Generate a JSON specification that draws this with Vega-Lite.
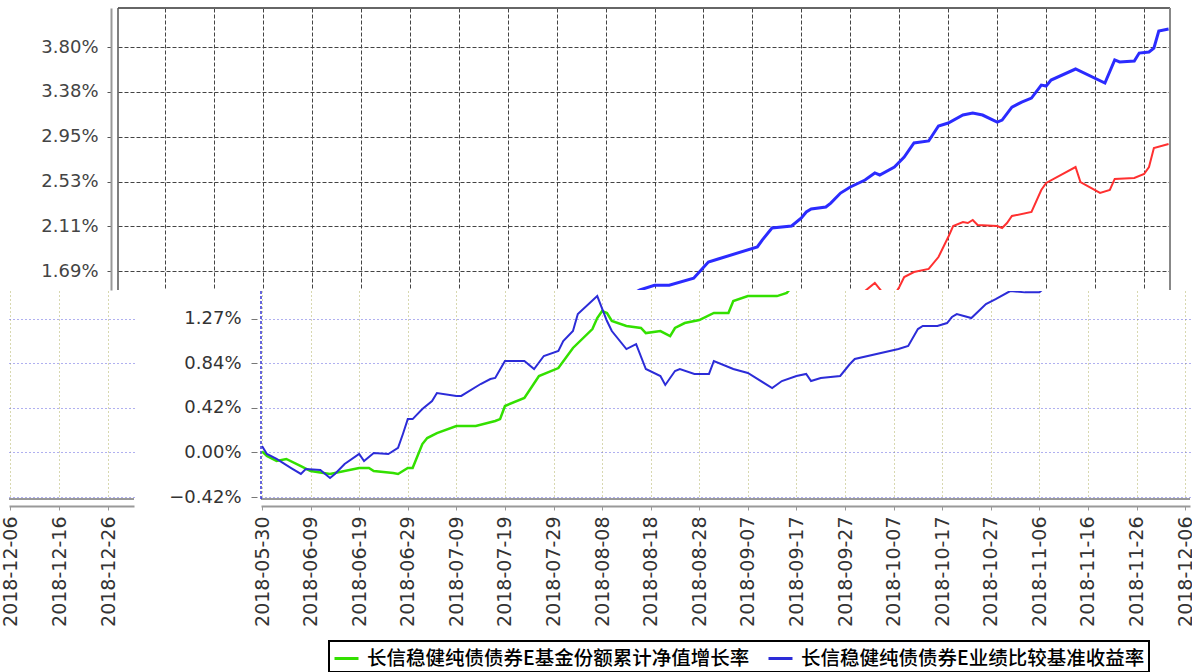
{
  "$schema": "https://vega.github.io/schema/vega-lite/v6.json",
  "background": "white",
  "padding": {"left": 1, "top": 7, "right": 0, "bottom": 0},
  "config": {
    "view": {"stroke": null},
    "axis": {"labelFont": "DejaVu Sans", "labelFontSize": 18, "labelColor": "#333", "title": null}
  },
  "datasets": {
    "topRed": [
      {"date": "2018-09-29", "value": 1.465}, {"date": "2018-10-02", "value": 1.578}, {"date": "2018-10-04", "value": 1.465},
      {"date": "2018-10-06", "value": 1.465}, {"date": "2018-10-07", "value": 1.540}, {"date": "2018-10-08", "value": 1.634},
      {"date": "2018-10-10", "value": 1.681}, {"date": "2018-10-13", "value": 1.710}, {"date": "2018-10-15", "value": 1.822},
      {"date": "2018-10-16", "value": 1.917}, {"date": "2018-10-17", "value": 2.010}, {"date": "2018-10-18", "value": 2.114},
      {"date": "2018-10-20", "value": 2.152}, {"date": "2018-10-21", "value": 2.142}, {"date": "2018-10-22", "value": 2.171},
      {"date": "2018-10-23", "value": 2.124}, {"date": "2018-10-27", "value": 2.114}, {"date": "2018-10-28", "value": 2.095},
      {"date": "2018-10-29", "value": 2.142}, {"date": "2018-10-30", "value": 2.208}, {"date": "2018-11-03", "value": 2.246},
      {"date": "2018-11-05", "value": 2.453}, {"date": "2018-11-06", "value": 2.519}, {"date": "2018-11-12", "value": 2.669},
      {"date": "2018-11-13", "value": 2.528}, {"date": "2018-11-17", "value": 2.425}, {"date": "2018-11-19", "value": 2.453},
      {"date": "2018-11-20", "value": 2.557}, {"date": "2018-11-24", "value": 2.566}, {"date": "2018-11-26", "value": 2.603},
      {"date": "2018-11-27", "value": 2.669}, {"date": "2018-11-28", "value": 2.848}, {"date": "2018-12-01", "value": 2.886}
    ],
    "topBlue": [
      {"date": "2018-08-13", "value": 1.465}, {"date": "2018-08-15", "value": 1.512}, {"date": "2018-08-18", "value": 1.557},
      {"date": "2018-08-21", "value": 1.557}, {"date": "2018-08-26", "value": 1.623}, {"date": "2018-08-29", "value": 1.775},
      {"date": "2018-08-31", "value": 1.804}, {"date": "2018-09-08", "value": 1.917}, {"date": "2018-09-09", "value": 1.982},
      {"date": "2018-09-11", "value": 2.095}, {"date": "2018-09-15", "value": 2.114}, {"date": "2018-09-17", "value": 2.189},
      {"date": "2018-09-18", "value": 2.246}, {"date": "2018-09-19", "value": 2.274}, {"date": "2018-09-22", "value": 2.293},
      {"date": "2018-09-23", "value": 2.330}, {"date": "2018-09-25", "value": 2.424}, {"date": "2018-09-27", "value": 2.481},
      {"date": "2018-09-30", "value": 2.547}, {"date": "2018-10-02", "value": 2.613}, {"date": "2018-10-03", "value": 2.594},
      {"date": "2018-10-06", "value": 2.669}, {"date": "2018-10-08", "value": 2.763}, {"date": "2018-10-10", "value": 2.895},
      {"date": "2018-10-13", "value": 2.914}, {"date": "2018-10-15", "value": 3.055}, {"date": "2018-10-17", "value": 3.083},
      {"date": "2018-10-20", "value": 3.158}, {"date": "2018-10-22", "value": 3.177}, {"date": "2018-10-24", "value": 3.158},
      {"date": "2018-10-27", "value": 3.092}, {"date": "2018-10-28", "value": 3.111}, {"date": "2018-10-30", "value": 3.233},
      {"date": "2018-11-01", "value": 3.280}, {"date": "2018-11-03", "value": 3.318}, {"date": "2018-11-05", "value": 3.440},
      {"date": "2018-11-06", "value": 3.431}, {"date": "2018-11-07", "value": 3.487}, {"date": "2018-11-12", "value": 3.591},
      {"date": "2018-11-18", "value": 3.459}, {"date": "2018-11-20", "value": 3.676}, {"date": "2018-11-21", "value": 3.657},
      {"date": "2018-11-24", "value": 3.666}, {"date": "2018-11-25", "value": 3.741}, {"date": "2018-11-27", "value": 3.751},
      {"date": "2018-11-28", "value": 3.788}, {"date": "2018-11-29", "value": 3.948}, {"date": "2018-12-01", "value": 3.967}
    ],
    "fund": [
      {"date": "2018-05-30", "value": 0.01}, {"date": "2018-05-31", "value": -0.033}, {"date": "2018-06-02", "value": -0.080},
      {"date": "2018-06-04", "value": -0.061}, {"date": "2018-06-07", "value": -0.128}, {"date": "2018-06-09", "value": -0.175},
      {"date": "2018-06-13", "value": -0.203}, {"date": "2018-06-19", "value": -0.147}, {"date": "2018-06-21", "value": -0.147},
      {"date": "2018-06-22", "value": -0.175}, {"date": "2018-06-26", "value": -0.194}, {"date": "2018-06-27", "value": -0.203},
      {"date": "2018-06-29", "value": -0.147}, {"date": "2018-06-30", "value": -0.147}, {"date": "2018-07-02", "value": 0.080},
      {"date": "2018-07-03", "value": 0.137}, {"date": "2018-07-05", "value": 0.184}, {"date": "2018-07-09", "value": 0.251},
      {"date": "2018-07-13", "value": 0.251}, {"date": "2018-07-17", "value": 0.298}, {"date": "2018-07-18", "value": 0.316},
      {"date": "2018-07-19", "value": 0.440}, {"date": "2018-07-23", "value": 0.516}, {"date": "2018-07-26", "value": 0.724},
      {"date": "2018-07-30", "value": 0.799}, {"date": "2018-08-02", "value": 0.989}, {"date": "2018-08-06", "value": 1.168},
      {"date": "2018-08-07", "value": 1.272}, {"date": "2018-08-08", "value": 1.339}, {"date": "2018-08-09", "value": 1.320},
      {"date": "2018-08-10", "value": 1.244}, {"date": "2018-08-13", "value": 1.197}, {"date": "2018-08-16", "value": 1.178},
      {"date": "2018-08-17", "value": 1.130}, {"date": "2018-08-20", "value": 1.149}, {"date": "2018-08-22", "value": 1.102},
      {"date": "2018-08-23", "value": 1.178}, {"date": "2018-08-25", "value": 1.225}, {"date": "2018-08-28", "value": 1.253},
      {"date": "2018-08-31", "value": 1.320}, {"date": "2018-09-03", "value": 1.320}, {"date": "2018-09-04", "value": 1.433},
      {"date": "2018-09-07", "value": 1.480}, {"date": "2018-09-13", "value": 1.480}, {"date": "2018-09-15", "value": 1.509},
      {"date": "2018-09-17", "value": 1.622}
    ],
    "bench": [
      {"date": "2018-05-30", "value": 0.061}, {"date": "2018-05-31", "value": -0.014}, {"date": "2018-06-02", "value": -0.061},
      {"date": "2018-06-05", "value": -0.147}, {"date": "2018-06-07", "value": -0.203}, {"date": "2018-06-08", "value": -0.156},
      {"date": "2018-06-11", "value": -0.166}, {"date": "2018-06-13", "value": -0.241}, {"date": "2018-06-14", "value": -0.203},
      {"date": "2018-06-16", "value": -0.109}, {"date": "2018-06-19", "value": -0.014}, {"date": "2018-06-20", "value": -0.080},
      {"date": "2018-06-22", "value": -0.005}, {"date": "2018-06-25", "value": -0.014}, {"date": "2018-06-27", "value": 0.043},
      {"date": "2018-06-28", "value": 0.175}, {"date": "2018-06-29", "value": 0.316}, {"date": "2018-06-30", "value": 0.316},
      {"date": "2018-07-02", "value": 0.411}, {"date": "2018-07-04", "value": 0.487}, {"date": "2018-07-05", "value": 0.563},
      {"date": "2018-07-09", "value": 0.535}, {"date": "2018-07-10", "value": 0.535}, {"date": "2018-07-14", "value": 0.648},
      {"date": "2018-07-16", "value": 0.695}, {"date": "2018-07-17", "value": 0.705}, {"date": "2018-07-19", "value": 0.866},
      {"date": "2018-07-23", "value": 0.866}, {"date": "2018-07-25", "value": 0.790}, {"date": "2018-07-27", "value": 0.913},
      {"date": "2018-07-30", "value": 0.960}, {"date": "2018-07-31", "value": 1.055}, {"date": "2018-08-02", "value": 1.149},
      {"date": "2018-08-03", "value": 1.310}, {"date": "2018-08-07", "value": 1.480}, {"date": "2018-08-09", "value": 1.244},
      {"date": "2018-08-10", "value": 1.149}, {"date": "2018-08-13", "value": 0.979}, {"date": "2018-08-15", "value": 1.026},
      {"date": "2018-08-17", "value": 0.790}, {"date": "2018-08-20", "value": 0.724}, {"date": "2018-08-21", "value": 0.639},
      {"date": "2018-08-23", "value": 0.771}, {"date": "2018-08-24", "value": 0.790}, {"date": "2018-08-27", "value": 0.743},
      {"date": "2018-08-30", "value": 0.743}, {"date": "2018-08-31", "value": 0.866}, {"date": "2018-09-04", "value": 0.790},
      {"date": "2018-09-07", "value": 0.752}, {"date": "2018-09-12", "value": 0.610}, {"date": "2018-09-14", "value": 0.676},
      {"date": "2018-09-17", "value": 0.724}, {"date": "2018-09-19", "value": 0.743}, {"date": "2018-09-20", "value": 0.676},
      {"date": "2018-09-22", "value": 0.705}, {"date": "2018-09-26", "value": 0.724}, {"date": "2018-09-28", "value": 0.837},
      {"date": "2018-09-29", "value": 0.885}, {"date": "2018-10-08", "value": 0.979}, {"date": "2018-10-10", "value": 1.008},
      {"date": "2018-10-12", "value": 1.168}, {"date": "2018-10-13", "value": 1.197}, {"date": "2018-10-16", "value": 1.197},
      {"date": "2018-10-18", "value": 1.225}, {"date": "2018-10-19", "value": 1.282}, {"date": "2018-10-20", "value": 1.310},
      {"date": "2018-10-23", "value": 1.272}, {"date": "2018-10-26", "value": 1.405}, {"date": "2018-10-28", "value": 1.452},
      {"date": "2018-10-31", "value": 1.528}, {"date": "2018-11-03", "value": 1.515}, {"date": "2018-11-06", "value": 1.515},
      {"date": "2018-11-08", "value": 1.600}
    ]
  },
  "spacing": -2,
  "resolve": {"scale": {"color": "independent"}, "legend": {"color": "independent"}},
  "vconcat": [
    {
      "bounds": "flush",
      "spacing": 0,
      "hconcat": [
        {
          "width": 109, "height": 282,
          "view": {"fill": "white", "stroke": null},
          "data": {"values": [{}]},
          "mark": {"type": "point", "opacity": 0}
        },
        {
          "width": 1052, "height": 282,
          "layer": [
            {
              "data": {"name": "topRed"},
              "mark": {"type": "line", "clip": true, "color": "#ff3030", "strokeWidth": 2},
              "encoding": {
                "x": {"field": "date", "type": "temporal",
                  "scale": {"type": "utc", "nice": false, "domain": [{"year": 2018, "month": 4, "date": 30, "hours": 10, "utc": true}, {"year": 2018, "month": 12, "date": 1, "hours": 7, "utc": true}]},
                  "axis": {"labels": false, "ticks": false, "domain": false, "grid": true, "gridColor": "#444", "gridDash": [4, 2], "gridWidth": 1,
                    "values": [
                      {"year": 2018, "month": 5, "date": 10, "utc": true}, {"year": 2018, "month": 5, "date": 20, "utc": true},
                      {"year": 2018, "month": 5, "date": 30, "utc": true}, {"year": 2018, "month": 6, "date": 9, "utc": true},
                      {"year": 2018, "month": 6, "date": 19, "utc": true}, {"year": 2018, "month": 6, "date": 29, "utc": true},
                      {"year": 2018, "month": 7, "date": 9, "utc": true}, {"year": 2018, "month": 7, "date": 19, "utc": true},
                      {"year": 2018, "month": 7, "date": 29, "utc": true}, {"year": 2018, "month": 8, "date": 8, "utc": true},
                      {"year": 2018, "month": 8, "date": 18, "utc": true}, {"year": 2018, "month": 8, "date": 28, "utc": true},
                      {"year": 2018, "month": 9, "date": 7, "utc": true}, {"year": 2018, "month": 9, "date": 17, "utc": true},
                      {"year": 2018, "month": 9, "date": 27, "utc": true}, {"year": 2018, "month": 10, "date": 7, "utc": true},
                      {"year": 2018, "month": 10, "date": 17, "utc": true}, {"year": 2018, "month": 10, "date": 27, "utc": true},
                      {"year": 2018, "month": 11, "date": 6, "utc": true}, {"year": 2018, "month": 11, "date": 16, "utc": true},
                      {"year": 2018, "month": 11, "date": 26, "utc": true}
                    ]}},
                "y": {"field": "value", "type": "quantitative",
                  "scale": {"domain": [1.512, 4.165], "nice": false, "zero": false},
                  "axis": {"values": [1.688, 2.11, 2.532, 2.954, 3.376, 3.798], "labelExpr": "format(datum.value, '.2f') + '%'",
                    "offset": 7, "domainColor": "#999", "domainWidth": 2, "tickColor": "#555", "tickSize": 4, "labelPadding": 9,
                    "labelColor": "#444", "grid": true, "gridColor": "#444", "gridDash": [4, 2], "gridWidth": 1}}
              }
            },
            {
              "data": {"name": "topBlue"},
              "mark": {"type": "line", "clip": true, "color": "#2b2bff", "strokeWidth": 3},
              "encoding": {
                "x": {"field": "date", "type": "temporal"},
                "y": {"field": "value", "type": "quantitative"}
              }
            },
            {
              "data": {"values": [{}]},
              "mark": {"type": "rule", "color": "#666", "strokeWidth": 2},
              "encoding": {"y": {"datum": 4.165}}
            },
            {
              "data": {"values": [{}]},
              "mark": {"type": "rule", "color": "#555", "strokeWidth": 1.5},
              "encoding": {"x": {"datum": {"year": 2018, "month": 4, "date": 30, "hours": 10, "utc": true}, "type": "temporal"}}
            },
            {
              "data": {"values": [{}]},
              "mark": {"type": "rule", "color": "#888", "strokeWidth": 2},
              "encoding": {"x": {"datum": {"year": 2018, "month": 12, "date": 1, "hours": 7, "utc": true}, "type": "temporal"}}
            }
          ]
        }
      ]
    },
    {
      "bounds": "flush",
      "spacing": 127,
      "resolve": {"scale": {"color": "independent"}, "legend": {"color": "independent"}},
      "hconcat": [
        {
          "width": 125, "height": 208,
          "data": {"values": [{}]},
          "layer": [
            {
              "mark": {"type": "point", "opacity": 0},
              "encoding": {
                "x": {"datum": {"year": 2018, "month": 12, "date": 16, "utc": true}, "type": "temporal",
                  "scale": {"type": "utc", "nice": false, "domain": [{"year": 2018, "month": 12, "date": 5, "hours": 19, "utc": true}, {"year": 2018, "month": 12, "date": 31, "hours": 7, "utc": true}]},
                  "axis": {"values": [{"year": 2018, "month": 12, "date": 6, "utc": true}, {"year": 2018, "month": 12, "date": 16, "utc": true}, {"year": 2018, "month": 12, "date": 26, "utc": true}],
                    "format": "%Y-%m-%d", "labelAngle": -90, "labelFontSize": 19, "offset": 7, "domainColor": "#999", "domainWidth": 2,
                    "tickColor": "#999", "tickSize": 4, "labelPadding": 6,
                    "grid": true, "gridColor": "#b0b060", "gridDash": [1, 3], "gridWidth": 1}},
                "y": {"datum": 0, "type": "quantitative",
                  "scale": {"domain": [-0.44, 1.528], "nice": false, "zero": false},
                  "axis": {"values": [-0.422, 0, 0.422, 0.844, 1.266], "labels": false, "ticks": false, "domain": false,
                    "grid": true, "gridColor": "#6060e0", "gridDash": [1, 3], "gridWidth": 1}}
              }
            },
            {
              "mark": {"type": "rule", "color": "#999", "strokeWidth": 2},
              "encoding": {"y": {"datum": -0.44}}
            }
          ]
        },
        {
          "width": 929, "height": 208,
          "layer": [
            {
              "data": {"name": "fund"},
              "mark": {"type": "line", "clip": true, "strokeWidth": 2.5},
              "encoding": {
                "x": {"field": "date", "type": "temporal",
                  "scale": {"type": "utc", "nice": false, "domain": [{"year": 2018, "month": 5, "date": 29, "hours": 19, "utc": true}, {"year": 2018, "month": 12, "date": 7, "utc": true}]},
                  "axis": {"format": "%Y-%m-%d", "labelAngle": -90, "labelFontSize": 19, "offset": 7, "domainColor": "#999", "domainWidth": 2,
                    "tickColor": "#999", "tickSize": 4, "labelPadding": 6,
                    "grid": true, "gridColor": "#b0b060", "gridDash": [1, 3], "gridWidth": 1,
                    "values": [
                      {"year": 2018, "month": 5, "date": 30, "utc": true}, {"year": 2018, "month": 6, "date": 9, "utc": true},
                      {"year": 2018, "month": 6, "date": 19, "utc": true}, {"year": 2018, "month": 6, "date": 29, "utc": true},
                      {"year": 2018, "month": 7, "date": 9, "utc": true}, {"year": 2018, "month": 7, "date": 19, "utc": true},
                      {"year": 2018, "month": 7, "date": 29, "utc": true}, {"year": 2018, "month": 8, "date": 8, "utc": true},
                      {"year": 2018, "month": 8, "date": 18, "utc": true}, {"year": 2018, "month": 8, "date": 28, "utc": true},
                      {"year": 2018, "month": 9, "date": 7, "utc": true}, {"year": 2018, "month": 9, "date": 17, "utc": true},
                      {"year": 2018, "month": 9, "date": 27, "utc": true}, {"year": 2018, "month": 10, "date": 7, "utc": true},
                      {"year": 2018, "month": 10, "date": 17, "utc": true}, {"year": 2018, "month": 10, "date": 27, "utc": true},
                      {"year": 2018, "month": 11, "date": 6, "utc": true}, {"year": 2018, "month": 11, "date": 16, "utc": true},
                      {"year": 2018, "month": 11, "date": 26, "utc": true}, {"year": 2018, "month": 12, "date": 6, "utc": true}
                    ]}},
                "y": {"field": "value", "type": "quantitative",
                  "scale": {"domain": [-0.44, 1.528], "nice": false, "zero": false},
                  "axis": {"values": [-0.422, 0, 0.422, 0.844, 1.266], "labelExpr": "format(datum.value, '.2f') + '%'",
                    "domain": false, "offset": 4, "tickColor": "#777", "tickSize": 6, "labelPadding": 10,
                    "grid": true, "gridColor": "#6060e0", "gridDash": [1, 3], "gridWidth": 1}},
                "color": {"datum": "长信稳健纯债债券E基金份额累计净值增长率", "type": "nominal",
                  "scale": {"domain": ["长信稳健纯债债券E基金份额累计净值增长率", "长信稳健纯债债券E业绩比较基准收益率"], "range": ["#33e000", "#2c2cd8"]},
                  "legend": {"orient": "none", "legendX": 68, "legendY": 350, "direction": "horizontal", "title": null,
                    "symbolType": "stroke", "symbolSize": 576, "symbolStrokeWidth": 3,
                    "labelFont": "Noto Sans CJK SC", "labelFontSize": 19.5, "labelFontWeight": 500, "labelColor": "#000", "labelLimit": 700,
                    "labelOffset": 7, "columnPadding": 12, "padding": 4, "strokeColor": "#000", "fillColor": "#fff",
                    "encode": {"legend": {"update": {"strokeWidth": {"value": 2}}}}}}
              }
            },
            {
              "data": {"name": "bench"},
              "mark": {"type": "line", "clip": true, "strokeWidth": 2},
              "encoding": {
                "x": {"field": "date", "type": "temporal"},
                "y": {"field": "value", "type": "quantitative"},
                "color": {"datum": "长信稳健纯债债券E业绩比较基准收益率", "type": "nominal"}
              }
            },
            {
              "data": {"values": [{}]},
              "mark": {"type": "rule", "color": "#999", "strokeWidth": 2},
              "encoding": {"y": {"datum": -0.44}}
            },
            {
              "data": {"values": [{}]},
              "mark": {"type": "rule", "color": "#3535d0", "strokeWidth": 1.5, "strokeDash": [3, 2]},
              "encoding": {"x": {"datum": {"year": 2018, "month": 5, "date": 29, "hours": 19, "utc": true}, "type": "temporal"}}
            }
          ]
        }
      ]
    }
  ]
}
